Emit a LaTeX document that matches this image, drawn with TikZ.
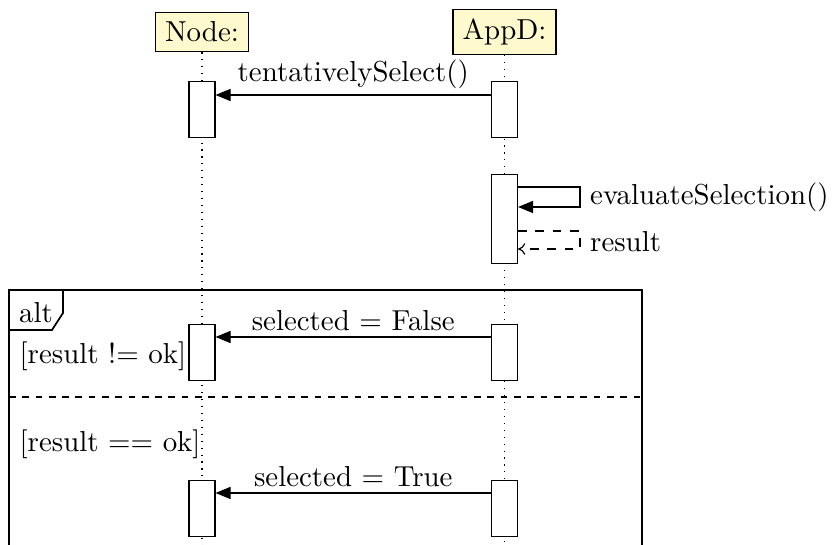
\documentclass[tikz,border=0pt]{standalone}
\usetikzlibrary{arrows.meta}
\definecolor{objfill}{RGB}{255,250,205}
\tikzset{
  obj/.style={draw, fill=objfill, inner sep=3.33pt, font=\normalsize},
  act/.style={draw, fill=white, inner sep=0pt, minimum width=9pt},
  lifeline/.style={dotted},
  call/.style={-{Triangle[length=5.2pt,width=4.2pt]}},
  ret/.style={dashed, -{To[length=2.5pt,width=4pt]}},
  msg/.style={above, inner sep=2pt},
  frame/.style={semithick},
  sep/.style={dash pattern=on 2.3pt off 2.3pt},
  lbl/.style={inner sep=3.33pt}
}
\begin{document}
\begin{tikzpicture}[x=0.34615pt, y=-0.34615pt]
\useasboundingbox (0,0) rectangle (832,545);
\clip (0,0) rectangle (832,545);
% objects
\node[obj] (node) at (202,32) {Node:};
\node[obj] (appd) at (504.5,32) {AppD:};
\coordinate (bot1) at (202,560);
\coordinate (bot2) at (504.5,560);
\draw[lifeline] (node.south) -- (bot1);
\draw[lifeline] (appd.south) -- (bot2);
% activations
\node[act, minimum height=19.38pt, anchor=north] (n1) at (202,81) {};
\node[act, minimum height=19.38pt, anchor=north] (a1) at (504.5,81) {};
\node[act, minimum height=30.8pt, anchor=north] (a2) at (504.5,174) {};
\node[act, minimum height=19.38pt, anchor=north] (n3) at (202,324) {};
\node[act, minimum height=19.38pt, anchor=north] (a3) at (504.5,324) {};
\node[act, minimum height=19.38pt, anchor=north] (n4) at (202,480) {};
\node[act, minimum height=19.38pt, anchor=north] (a4) at (504.5,480) {};
% call 1
\draw[call] ([yshift=-4.85pt]a1.north west) -- node[msg] {tentativelySelect()} ([yshift=-4.85pt]n1.north east);
% self call
\coordinate (s1) at (580,187);
\coordinate (s2) at (580,207);
\draw[call] (a2.east |- s1) -- (s1) -- (s2) -- (a2.east |- s2);
\node[lbl, anchor=west] (evl) at (580,197) {evaluateSelection()};
\coordinate (r1) at (580,231);
\coordinate (r2) at (580,249);
\draw[ret] (a2.east |- r1) -- (r1) -- (r2) -- (a2.east |- r2);
\node[lbl, anchor=west] (resl) at (580,242) {result};
% alt frame
\coordinate (f1) at (9,290);
\coordinate (f2) at (642,600);
\draw[frame] (f1) rectangle (f2);
\coordinate (t1) at (9,330);
\coordinate (t2) at (52,330);
\coordinate (t3) at (63,313);
\coordinate (t4) at (63,290);
\draw[frame] (t1) -- (t2) -- (t3) -- (t4);
\node (alt) at (36,312.5) {alt};
\node[anchor=west] (g1) at (9.5,356.5) {[result != ok]};
\coordinate (d1) at (9,397);
\coordinate (d2) at (642,397);
\draw[sep] (d1) -- (d2);
\node[anchor=west] (g2) at (9.5,444) {[result == ok]};
% alt messages
\draw[call] ([yshift=-4.5pt]a3.north west) -- node[msg] {selected = False} ([yshift=-4.5pt]n3.north east);
\draw[call] ([yshift=-4.5pt]a4.north west) -- node[msg] {selected = True} ([yshift=-4.5pt]n4.north east);
\end{tikzpicture}
\end{document}
